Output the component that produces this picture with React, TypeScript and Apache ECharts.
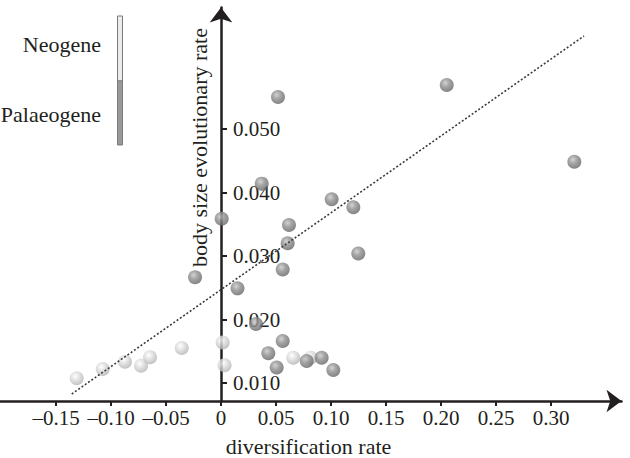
import React, { useEffect, useRef } from "react";
import * as echarts from "echarts";

const neogene: [number, number][] = [
  [-0.1312, 0.01074],
  [-0.1075, 0.0122],
  [-0.0873, 0.01335],
  [-0.0727, 0.01272],
  [-0.0645, 0.01405],
  [-0.0357, 0.01551],
  [0.0015, 0.01638],
  [0.0032, 0.01279],
  [0.0657, 0.01398],
  [0.0815, 0.01398],
];

const palaeogene: [number, number][] = [
  [0.0518, 0.05504],
  [0.037, 0.04139],
  [0.0006, 0.03586],
  [0.1006, 0.03893],
  [0.1203, 0.03767],
  [0.0618, 0.03488],
  [0.0606, 0.032],
  [0.1248, 0.03039],
  [0.0561, 0.02787],
  [-0.0236, 0.02665],
  [0.015, 0.02491],
  [0.0318, 0.01929],
  [0.0561, 0.01661],
  [0.043, 0.01468],
  [0.0506, 0.01244],
  [0.0779, 0.01346],
  [0.0915, 0.01398],
  [0.1021, 0.01205],
  [0.2052, 0.05693],
  [0.3212, 0.04485],
];

const trendLine: [number, number][] = [
  [-0.1357, 0.00827],
  [0.33, 0.06465],
];

const xTicks = [-0.15, -0.1, -0.05, 0, 0.05, 0.1, 0.15, 0.2, 0.25, 0.3];
const yTicks = [0.01, 0.02, 0.03, 0.04, 0.05];

const FONT = "Liberation Serif";
const INK = "#231f20";

const X_MIN = -221 / 1100;
const X_MAX = 400.5 / 1100;

const sphere = (light: string, mid: string, dark: string) =>
  new echarts.graphic.RadialGradient(0.4, 0.35, 0.65, [
    { offset: 0, color: light },
    { offset: 0.45, color: mid },
    { offset: 1, color: dark },
  ]);

export default function App() {
  const ref = useRef<HTMLDivElement>(null);
  useEffect(() => {
    if (!ref.current) return;
    const chart = echarts.init(ref.current, undefined, { renderer: "svg" });
    chart.setOption({
      animation: false,
      backgroundColor: "#ffffff",
      grid: { left: 0, right: 8.5, top: 7.5, bottom: 57, containLabel: false, outerBoundsMode: "none" },
      xAxis: {
        type: "value",
        min: X_MIN,
        max: X_MAX,
        axisLine: {
          onZero: false,
          symbol: ["none", "arrow"],
          symbolSize: [17, 15],
          lineStyle: { color: INK, width: 2.5 },
        },
        axisTick: { show: true, length: 5, lineStyle: { color: INK, width: 2 }, customValues: xTicks },
        axisLabel: {
          customValues: xTicks,
          margin: 6,
          fontFamily: FONT,
          fontSize: 21,
          color: INK,
          formatter: (v: number) =>
            Math.abs(v) < 1e-9 ? "0" : v < 0 ? "\u2013" + Math.abs(v).toFixed(2) : v.toFixed(2),
        },
        splitLine: { show: false },
      },
      yAxis: {
        type: "value",
        position: "left",
        offset: -221,
        min: 0.03 - 145 / 6350,
        max: 0.03 + 248.5 / 6350,
        axisLine: {
          onZero: false,
          symbol: ["none", "arrow"],
          symbolSize: [17, 15],
          lineStyle: { color: INK, width: 2.5 },
        },
        axisTick: { show: true, inside: true, length: 6, lineStyle: { color: INK, width: 2 }, customValues: yTicks },
        axisLabel: {
          inside: true,
          customValues: yTicks,
          margin: 12,
          fontFamily: FONT,
          fontSize: 21,
          color: INK,
          formatter: (v: number) => v.toFixed(3),
        },
        splitLine: { show: false },
      },
      series: [
        {
          name: "Neogene",
          type: "scatter",
          data: neogene,
          symbolSize: 14,
          itemStyle: { color: sphere("#ffffff", "#dcdcdc", "#b4b4b4") },
          z: 3,
        },
        {
          name: "Palaeogene",
          type: "scatter",
          data: palaeogene,
          symbolSize: 14,
          itemStyle: { color: sphere("#c8c8c8", "#8e8e8e", "#666666") },
          z: 4,
        },
        {
          name: "trend",
          type: "line",
          data: trendLine,
          showSymbol: false,
          symbol: "none",
          lineStyle: { color: "#3a3a3a", width: 1.6, type: [2, 2] },
          z: 5,
        },
      ],
      graphic: [
        {
          type: "text",
          x: 308.5,
          y: 446,
          style: {
            text: "diversification rate",
            fontFamily: FONT,
            fontSize: 22,
            fill: INK,
            align: "center",
            verticalAlign: "middle",
          },
        },
        {
          type: "text",
          x: 199,
          y: 147.5,
          rotation: Math.PI / 2,
          style: {
            text: "body size evolutionary rate",
            fontFamily: FONT,
            fontSize: 22,
            fill: INK,
            align: "center",
            verticalAlign: "middle",
          },
        },
        {
          type: "rect",
          shape: { x: 117.5, y: 16, width: 5, height: 65 },
          style: { fill: "#ececec", stroke: "#7a7a7a", lineWidth: 1 },
        },
        {
          type: "rect",
          shape: { x: 117.5, y: 81, width: 5, height: 64 },
          style: { fill: "#9a9a9a", stroke: "#7a7a7a", lineWidth: 1 },
        },
        {
          type: "text",
          x: 101,
          y: 44.5,
          style: {
            text: "Neogene",
            fontFamily: FONT,
            fontSize: 22,
            fill: INK,
            align: "right",
            verticalAlign: "middle",
          },
        },
        {
          type: "text",
          x: 101,
          y: 114.5,
          style: {
            text: "Palaeogene",
            fontFamily: FONT,
            fontSize: 22,
            fill: INK,
            align: "right",
            verticalAlign: "middle",
          },
        },
      ],
    });
    return () => chart.dispose();
  }, []);
  return (
    <div
      ref={ref}
      style={{ position: "fixed", left: 0, top: 0, width: 630, height: 458, background: "#fff" }}
    />
  );
}
